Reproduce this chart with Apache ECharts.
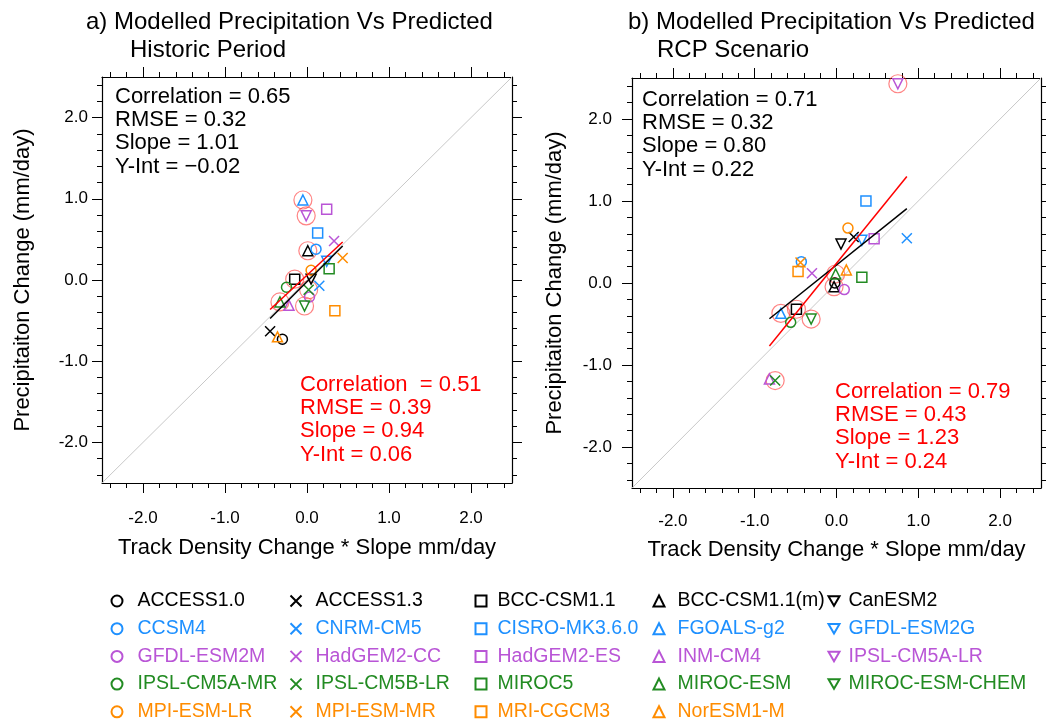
<!DOCTYPE html>
<html>
<head>
<meta charset="utf-8">
<script src="https://cdn.jsdelivr.net/npm/echarts@6/dist/echarts.min.js"></script>
<style>
html, body { margin: 0; background: #fff; }
#chart { width: 1046px; height: 722px; }
</style>
</head>
<body>
<div id="chart"></div>
<script>
// models, in legend order (row by row)
var models = ['ACCESS1.0', 'ACCESS1.3', 'BCC-CSM1.1', 'BCC-CSM1.1(m)', 'CanESM2',
	'CCSM4', 'CNRM-CM5', 'CISRO-MK3.6.0', 'FGOALS-g2', 'GFDL-ESM2G',
	'GFDL-ESM2M', 'HadGEM2-CC', 'HadGEM2-ES', 'INM-CM4', 'IPSL-CM5A-LR',
	'IPSL-CM5A-MR', 'IPSL-CM5B-LR', 'MIROC5', 'MIROC-ESM', 'MIROC-ESM-CHEM',
	'MPI-ESM-LR', 'MPI-ESM-MR', 'MRI-CGCM3', 'NorESM1-M'];

// a) historic period
var histX = [-0.30, -0.45, -0.15, 0.01, 0.05,
	0.11, 0.15, 0.13, -0.05, 0.24,
	0.03, 0.33, 0.24, -0.22, -0.01,
	-0.25, 0.02, 0.27, -0.33, -0.03,
	0.05, 0.435, 0.34, -0.36];
var histY = [-0.73, -0.63, 0.01, 0.36, 0.01,
	0.38, -0.07, 0.58, 0.985, 0.23,
	-0.21, 0.48, 0.87, -0.31, 0.79,
	-0.09, -0.12, 0.14, -0.27, -0.32,
	0.12, 0.27, -0.38, -0.70];

// b) RCP scenario
var rcpX = [-0.02, 0.21, -0.49, -0.03, 0.055,
	-0.43, 0.86, 0.36, -0.68, 0.31,
	0.095, -0.30, 0.46, -0.82, 0.75,
	-0.56, -0.75, 0.31, -0.01, -0.31,
	0.14, -0.44, -0.47, 0.12];
var rcpY = [0.0, 0.56, -0.32, -0.045, 0.475,
	0.26, 0.545, 1.00, -0.37, 0.52,
	-0.08, 0.12, 0.54, -1.17, 2.43,
	-0.48, -1.19, 0.07, 0.11, -0.44,
	0.67, 0.25, 0.14, 0.16];

// models ringed in red (the subset used for the red fit)
var circled = ['BCC-CSM1.1', 'BCC-CSM1.1(m)', 'FGOALS-g2', 'IPSL-CM5A-LR',
	'IPSL-CM5B-LR', 'MIROC-ESM', 'MIROC-ESM-CHEM'];

// regression fits: [slope, intercept]
var histFitAll = [1.01, -0.02];
var histFitSub = [0.94, 0.06];
var rcpFitAll = [0.80, 0.22];
var rcpFitSub = [1.23, 0.24];

var histStats = ['Correlation = 0.65', 'RMSE = 0.32', 'Slope = 1.01', 'Y-Int = \u22120.02'];
var histStatsSub = ['Correlation  = 0.51', 'RMSE = 0.39', 'Slope = 0.94', 'Y-Int = 0.06'];
var rcpStats = ['Correlation = 0.71', 'RMSE = 0.32', 'Slope = 0.80', 'Y-Int = 0.22'];
var rcpStatsSub = ['Correlation = 0.79', 'RMSE = 0.43', 'Slope = 1.23', 'Y-Int = 0.24'];

var axisRange = [-2.5, 2.5];
var majorTicks = [-2, -1, 0, 1, 2];
var minorTicks = [];
for (var t = -12; t <= 12; t++) minorTicks.push(t / 5);

var markers = ['circle', 'path://M0,0L10,10M10,0L0,10', 'rect', 'triangle', 'path://M0,0L10,0L5,8.66Z'];
var rowColors = ['#000000', '#1e90ff', '#b955d6', '#228b22', '#ff8c00'];
var FONT = 'Liberation Sans';

var myChart = echarts.init(document.getElementById('chart'));

var panels = [
	{ left: 102, top: 77, width: 410, height: 406, x: histX, y: histY, fitAll: histFitAll, fitSub: histFitSub,
	  xLabelMargin: 27, xNameGap: 54, yLabelMargin: 14, yNameGap: 68 },
	{ left: 632, top: 78, width: 409, height: 410, x: rcpX, y: rcpY, fitAll: rcpFitAll, fitSub: rcpFitSub,
	  xLabelMargin: 25, xNameGap: 51, yLabelMargin: 20, yNameGap: 66 }
];

var grids = [], xAxes = [], yAxes = [], series = [];

function makeAxis(grid, pos, ticks, len, line, label, name, nameGap) {
	return {
		type: 'value', gridIndex: grid, position: pos,
		min: axisRange[0], max: axisRange[1],
		splitLine: { show: false },
		axisLine: { show: line, onZero: false, lineStyle: { color: '#000', width: 1.2 } },
		axisTick: { show: true, inside: false, length: len, customValues: ticks, lineStyle: { color: '#000', width: 1 } },
		axisLabel: {
			show: !!label, customValues: majorTicks, margin: label || 8,
			fontFamily: FONT, fontSize: 17, color: '#000',
			formatter: function (v) { return v.toFixed(1); }
		},
		name: name || '', nameLocation: 'middle', nameGap: nameGap,
		nameTextStyle: { fontFamily: FONT, fontSize: 22, color: '#000' }
	};
}

function lineData(xs, fit) {
	var lo = Math.min.apply(null, xs), hi = Math.max.apply(null, xs);
	return [[lo, fit[0] * lo + fit[1]], [hi, fit[0] * hi + fit[1]]];
}

panels.forEach(function (p, g) {
	grids.push({ left: p.left, top: p.top, width: p.width, height: p.height });
	var xi = xAxes.length, yi = yAxes.length;
	xAxes.push(makeAxis(g, 'bottom', majorTicks, 10, true, p.xLabelMargin, 'Track Density Change * Slope mm/day', p.xNameGap));
	xAxes.push(makeAxis(g, 'bottom', minorTicks, 5, false));
	xAxes.push(makeAxis(g, 'top', majorTicks, 10, true));
	xAxes.push(makeAxis(g, 'top', minorTicks, 5, false));
	yAxes.push(makeAxis(g, 'left', majorTicks, 10, true, p.yLabelMargin, 'Precipitaiton Change (mm/day)', p.yNameGap));
	yAxes.push(makeAxis(g, 'left', minorTicks, 5, false));
	yAxes.push(makeAxis(g, 'right', majorTicks, 10, true));
	yAxes.push(makeAxis(g, 'right', minorTicks, 5, false));

	// 1:1 line
	series.push({
		type: 'line', xAxisIndex: xi, yAxisIndex: yi, silent: true, showSymbol: false, z: 1,
		lineStyle: { color: '#c8c8c8', width: 1 },
		data: [[axisRange[0], axisRange[0]], [axisRange[1], axisRange[1]]]
	});
	// fits
	series.push({
		type: 'line', xAxisIndex: xi, yAxisIndex: yi, silent: true, showSymbol: false, z: 4,
		lineStyle: { color: '#000', width: 1.5 }, data: lineData(p.x, p.fitAll)
	});
	series.push({
		type: 'line', xAxisIndex: xi, yAxisIndex: yi, silent: true, showSymbol: false, z: 4,
		lineStyle: { color: '#ff0000', width: 1.5 }, data: lineData(p.x, p.fitSub)
	});
	// models
	models.forEach(function (m, i) {
		series.push({
			type: 'scatter', name: m, xAxisIndex: xi, yAxisIndex: yi, silent: true, z: 3,
			symbol: markers[i % 5], symbolSize: 10,
			itemStyle: { color: 'rgba(0,0,0,0)', borderColor: rowColors[Math.floor(i / 5)], borderWidth: 1.5, opacity: 1 },
			data: [[p.x[i], p.y[i]]]
		});
	});
	// red rings
	series.push({
		type: 'scatter', xAxisIndex: xi, yAxisIndex: yi, silent: true, z: 2,
		symbol: 'circle', symbolSize: 18,
		itemStyle: { color: 'rgba(0,0,0,0)', borderColor: 'rgba(255,50,50,0.75)', borderWidth: 1.2 },
		data: circled.map(function (n) { var k = models.indexOf(n); return [p.x[k], p.y[k]]; })
	});
});

function statTitle(lines, left, top, color) {
	return {
		text: lines.join('\n'), left: left, top: top, padding: 0,
		textStyle: { fontFamily: FONT, fontSize: 22, fontWeight: 'normal', color: color, lineHeight: 23.3 }
	};
}
function headTitle(text, left, top) {
	return {
		text: text, left: left, top: top, padding: 0,
		textStyle: { fontFamily: FONT, fontSize: 24, fontWeight: 'normal', color: '#000' }
	};
}

var titles = [
	headTitle('a) Modelled Precipitation Vs Predicted', 86, 10),
	headTitle('Historic Period', 130, 38),
	headTitle('b) Modelled Precipitation Vs Predicted', 628, 10),
	headTitle('RCP Scenario', 657, 38),
	statTitle(histStats, 115, 85, '#000'),
	statTitle(histStatsSub, 300, 373, '#ff0000'),
	statTitle(rcpStats, 642, 88, '#000'),
	statTitle(rcpStatsSub, 835, 380, '#ff0000')
];

// legend: five columns, like the original layout
var legendCols = [
	{ idx: [0, 5, 10, 15, 20], left: 110.5, pad: 10 },
	{ idx: [1, 6, 11, 16, 21], left: 289.5, pad: 9 },
	{ idx: [2, 7, 12, 17, 22], left: 474.5, pad: 6 },
	{ idx: [3, 8, 13, 18, 23], left: 652.5, pad: 8 },
	{ idx: [4, 9, 14, 19], left: 827.5, pad: 4 }
];
var legends = legendCols.map(function (c) {
	return {
		orient: 'vertical', left: c.left, top: 591, padding: 0,
		itemWidth: 11, itemHeight: 11, itemGap: 7.7, selectedMode: false,
		textStyle: { fontFamily: FONT, fontSize: 19.5, lineHeight: 20, padding: [0, 0, 0, c.pad] },
		data: c.idx.map(function (i) {
			return { name: models[i], textStyle: { color: rowColors[Math.floor(i / 5)] } };
		})
	};
});

var option = {
	backgroundColor: '#fff',
	animation: false,
	title: titles,
	legend: legends,
	grid: grids,
	xAxis: xAxes,
	yAxis: yAxes,
	series: series
};
myChart.setOption(option);
</script>
</body>
</html>
